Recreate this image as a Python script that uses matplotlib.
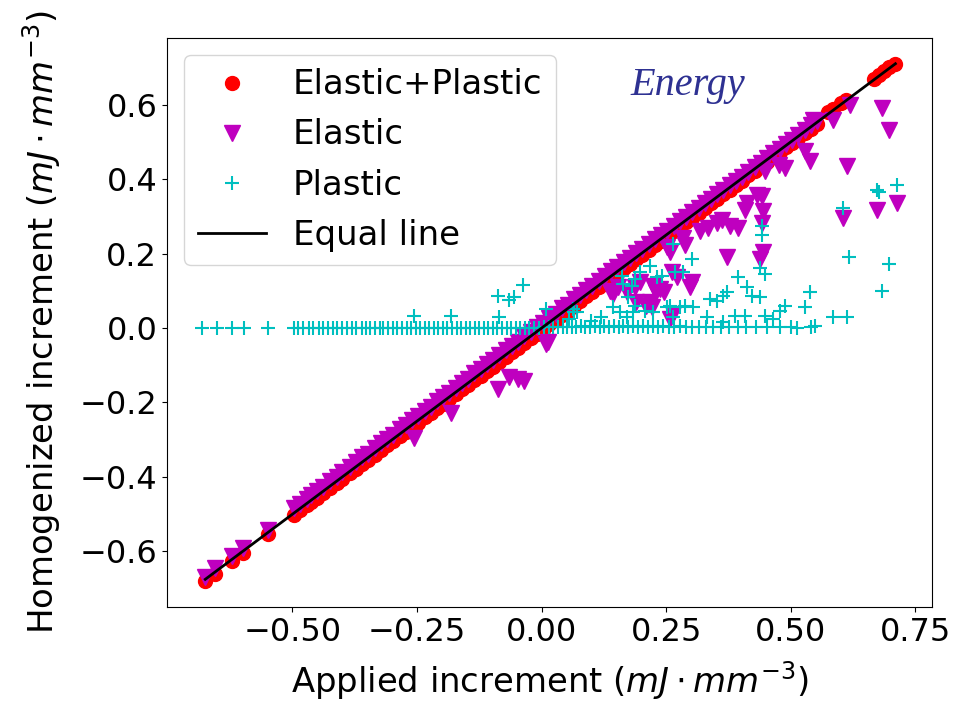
import matplotlib
matplotlib.use("Agg")
import matplotlib.pyplot as plt

# total (elastic + plastic) increment, sits on the equal line
total_x = [-0.675, -0.655, -0.622, -0.600, -0.550, -0.496, -0.485, -0.470, -0.462, -0.450,
           -0.438, -0.425, -0.410, -0.400, -0.385, -0.372, -0.360, -0.348, -0.335, -0.322,
           -0.310, -0.298, -0.285, -0.272, -0.260, -0.248, -0.235, -0.222, -0.210, -0.198,
           -0.185, -0.172, -0.160, -0.148, -0.135, -0.122, -0.110, -0.098, -0.085, -0.072,
           -0.060, -0.048, -0.035, -0.022, -0.010, 0.002, 0.015, 0.028, 0.040, 0.052,
           0.065, 0.078, 0.090, 0.102, 0.115, 0.128, 0.140, 0.152, 0.165, 0.178,
           0.190, 0.202, 0.215, 0.228, 0.240, 0.252, 0.265, 0.278, 0.290, 0.302,
           0.315, 0.328, 0.340, 0.352, 0.365, 0.378, 0.390, 0.402, 0.415, 0.428,
           0.440, 0.452, 0.465, 0.478, 0.490, 0.502, 0.515, 0.528, 0.540, 0.552,
           0.575, 0.585, 0.600, 0.610, 0.668, 0.678, 0.688, 0.698, 0.710]
total_y = [-0.680, -0.660, -0.627, -0.605, -0.554, -0.502, -0.490, -0.476, -0.467, -0.456,
           -0.443, -0.431, -0.415, -0.406, -0.390, -0.378, -0.365, -0.354, -0.340, -0.328,
           -0.315, -0.304, -0.290, -0.278, -0.265, -0.254, -0.240, -0.228, -0.215, -0.204,
           -0.190, -0.178, -0.165, -0.154, -0.140, -0.128, -0.115, -0.104, -0.090, -0.078,
           -0.065, -0.054, -0.040, -0.028, -0.015, -0.004, 0.010, 0.022, 0.035, 0.046,
           0.060, 0.072, 0.085, 0.096, 0.110, 0.122, 0.135, 0.146, 0.160, 0.172,
           0.185, 0.196, 0.210, 0.222, 0.235, 0.246, 0.260, 0.272, 0.285, 0.296,
           0.310, 0.322, 0.335, 0.346, 0.360, 0.372, 0.385, 0.396, 0.410, 0.422,
           0.435, 0.446, 0.460, 0.472, 0.485, 0.497, 0.510, 0.523, 0.536, 0.548,
           0.580, 0.588, 0.604, 0.612, 0.670, 0.680, 0.690, 0.700, 0.710]

# elastic part
elastic_x = [-0.675, -0.655, -0.622, -0.600, -0.550, -0.496, -0.485, -0.470, -0.462, -0.450,
             -0.438, -0.425, -0.410, -0.400, -0.385, -0.372, -0.360, -0.348, -0.335, -0.322,
             -0.310, -0.298, -0.285, -0.272, -0.260, -0.248, -0.235, -0.222, -0.210, -0.198,
             -0.185, -0.172, -0.160, -0.148, -0.135, -0.122, -0.110, -0.098, -0.085, -0.072,
             -0.060, -0.048, -0.035, -0.022, -0.010, 0.002, 0.015, 0.028, 0.040, 0.052,
             0.065, 0.078, 0.090, 0.102, 0.115, 0.128, 0.140, 0.152, 0.165, 0.178,
             0.190, 0.202, 0.215, 0.228, 0.240, 0.252, 0.265, 0.278, 0.290, 0.302,
             0.315, 0.328, 0.340, 0.352, 0.365, 0.378, 0.390, 0.402, 0.415, 0.428,
             0.440, 0.452, 0.465, 0.478, 0.490, 0.502, 0.515, 0.528, 0.540, 0.552,
             0.684, 0.698, 0.618, 0.584, 0.612, 0.674, 0.714, 0.604, 0.538, 0.528,
             0.488, 0.476, 0.448, 0.432, 0.442, 0.444, 0.442, 0.444, 0.438, 0.412,
             0.408, 0.394, 0.378, 0.362, 0.352, 0.334, 0.318, 0.372, 0.302, 0.298,
             0.284, 0.288, 0.252, 0.258, 0.224, 0.218, 0.222, 0.262, 0.272, 0.188,
             0.198, 0.238, 0.246, 0.144, 0.154, 0.264, 0.258, 0.138, 0.172, 0.190,
             0.210, 0.230, 0.012, 0.008, -0.088, -0.066, -0.048, -0.036, -0.182, -0.256,
             0.544]
elastic_y = [-0.668, -0.645, -0.612, -0.592, -0.542, -0.484, -0.472, -0.460, -0.449, -0.437,
             -0.428, -0.411, -0.399, -0.386, -0.374, -0.360, -0.346, -0.337, -0.322, -0.310,
             -0.297, -0.287, -0.272, -0.260, -0.247, -0.236, -0.222, -0.212, -0.197, -0.185,
             -0.174, -0.160, -0.147, -0.137, -0.122, -0.110, -0.097, -0.087, -0.072, -0.060,
             -0.047, -0.037, -0.022, -0.011, 0.003, 0.013, 0.027, 0.039, 0.053, 0.063,
             0.077, 0.088, 0.103, 0.113, 0.127, 0.139, 0.152, 0.163, 0.177, 0.188,
             0.202, 0.213, 0.226, 0.238, 0.251, 0.262, 0.275, 0.288, 0.299, 0.311,
             0.323, 0.336, 0.347, 0.359, 0.371, 0.384, 0.395, 0.407, 0.420, 0.433,
             0.444, 0.457, 0.469, 0.482, 0.494, 0.506, 0.519, 0.532, 0.545, 0.556,
             0.592, 0.532, 0.600, 0.560, 0.435, 0.316, 0.335, 0.295, 0.449, 0.476,
             0.430, 0.438, 0.422, 0.357, 0.354, 0.314, 0.281, 0.205, 0.186, 0.335,
             0.316, 0.268, 0.273, 0.289, 0.281, 0.268, 0.262, 0.192, 0.124, 0.111,
             0.241, 0.222, 0.219, 0.205, 0.114, 0.070, 0.057, 0.151, 0.138, 0.111,
             0.124, 0.105, 0.097, 0.092, 0.111, 0.038, 0.024, 0.100, 0.097, 0.070,
             0.060, 0.097, -0.038, -0.043, -0.165, -0.132, -0.138, -0.143, -0.227, -0.295,
             0.560]

# plastic part
plastic_x = [-0.682, -0.652, -0.622, -0.598, -0.550, -0.496, -0.488, -0.478, -0.466, -0.458,
             -0.446, -0.438, -0.428, -0.418, -0.410, -0.400, -0.390, -0.380, -0.372, -0.360,
             -0.352, -0.344, -0.335, -0.325, -0.318, -0.308, -0.298, -0.290, -0.280, -0.270,
             -0.262, -0.252, -0.244, -0.235, -0.226, -0.216, -0.208, -0.198, -0.190, -0.180,
             -0.170, -0.162, -0.152, -0.144, -0.134, -0.125, -0.116, -0.108, -0.098, -0.090,
             -0.080, -0.070, -0.062, -0.052, -0.044, -0.034, -0.025, -0.016, -0.006, 0.004,
             0.014, 0.022, 0.032, 0.042, 0.050, 0.060, 0.070, 0.080, 0.088, 0.098,
             0.108, 0.118, 0.126, 0.136, 0.146, 0.156, 0.164, 0.174, 0.184, 0.194,
             0.204, 0.214, 0.224, 0.234, 0.244, 0.256, 0.266, 0.278, 0.290, 0.302,
             0.316, 0.330, 0.344, 0.360, 0.376, 0.394, 0.410, 0.430, 0.452, 0.478,
             0.500, 0.512, 0.540,
             -0.256, -0.182, -0.086, -0.088, -0.066, -0.056, -0.038, 0.008, 0.062, 0.072,
             0.064, 0.054, 0.158, 0.172, 0.184, 0.252, 0.264, 0.714, 0.674, 0.678,
             0.604, 0.616, 0.698, 0.684, 0.584, 0.612, 0.538, 0.528, 0.488, 0.478,
             0.548, 0.442, 0.442, 0.438, 0.448, 0.394, 0.412, 0.422, 0.438, 0.364,
             0.372, 0.338, 0.352, 0.302, 0.264, 0.284, 0.268, 0.242, 0.232, 0.218,
             0.198, 0.188, 0.182, 0.162, 0.164, 0.174, 0.188, 0.144, 0.258, 0.278,
             0.288, 0.304, 0.208, 0.224, 0.388, 0.408, 0.332, 0.448, 0.464, 0.364,
             0.120, 0.100]
plastic_y = [0.000, 0.000, 0.000, 0.000, 0.000, 0.000, 0.000, 0.000, 0.000, 0.000,
             0.000, 0.000, 0.000, 0.000, 0.000, 0.000, 0.000, 0.000, 0.000, 0.000,
             0.000, 0.000, 0.000, 0.000, 0.000, 0.000, 0.000, 0.000, 0.000, 0.000,
             0.000, 0.000, 0.000, 0.000, 0.000, 0.000, 0.000, 0.000, 0.000, 0.000,
             0.000, 0.000, 0.000, 0.000, 0.000, 0.000, 0.000, 0.000, 0.000, 0.000,
             0.000, 0.000, 0.000, 0.000, 0.000, 0.000, 0.000, 0.000, 0.000, 0.002,
             0.003, 0.002, 0.004, 0.003, 0.002, 0.004, 0.003, 0.005, 0.004, 0.003,
             0.005, 0.004, 0.006, 0.003, 0.005, 0.004, 0.006, 0.003, 0.005, 0.004,
             0.006, 0.003, 0.005, 0.004, 0.006, 0.003, 0.004, 0.005, 0.003, 0.004,
             0.003, 0.004, 0.002, 0.003, 0.004, 0.002, 0.003, 0.002, 0.003, 0.002,
             0.002, 0.001, 0.002,
             0.032, 0.032, 0.030, 0.086, 0.076, 0.084, 0.116, 0.051, 0.051, 0.043,
             0.043, 0.024, 0.043, 0.030, 0.043, 0.057, 0.030, 0.384, 0.370, 0.365,
             0.322, 0.192, 0.173, 0.100, 0.030, 0.030, 0.097, 0.057, 0.060, 0.046,
             0.005, 0.273, 0.249, 0.160, 0.146, 0.138, 0.111, 0.086, 0.084, 0.086,
             0.097, 0.078, 0.073, 0.186, 0.227, 0.151, 0.151, 0.140, 0.138, 0.168,
             0.151, 0.132, 0.114, 0.140, 0.119, 0.084, 0.060, 0.057, 0.060, 0.057,
             0.060, 0.057, 0.046, 0.043, 0.032, 0.032, 0.030, 0.032, 0.024, 0.016,
             0.030, 0.020]

equal_x = [-0.675, 0.71]
equal_y = [-0.675, 0.71]

plt.rcParams['font.size'] = 23
fig = plt.figure(figsize=(9.68, 7.01), dpi=100)
ax = fig.add_axes([0.1725, 0.134, 0.7905, 0.812])

ax.plot(total_x, total_y, 'o', color='r', markersize=10, label='Elastic+Plastic')
ax.plot(elastic_x, elastic_y, 'v', color='m', markersize=11, label='Elastic')
ax.plot(plastic_x, plastic_y, '+', color='c', markersize=10.5, markeredgewidth=1.5, label='Plastic')
ax.plot(equal_x, equal_y, '-', color='k', linewidth=2, label='Equal line')

ax.set_xticks([-0.5, -0.25, 0.0, 0.25, 0.5, 0.75])
ax.set_yticks([-0.6, -0.4, -0.2, 0.0, 0.2, 0.4, 0.6])
ax.tick_params(labelsize=23)
ax.set_xlabel(r'Applied increment ($mJ \cdot mm^{-3}$)', fontsize=24.4, labelpad=8)
ax.set_ylabel(r'Homogenized increment ($mJ \cdot mm^{-3}$)', fontsize=24.4, labelpad=12)
ax.legend(loc='upper left', fontsize=24.5)

ax.text(0.681, 0.90, 'Energy', transform=ax.transAxes, ha='center', va='baseline',
        family='Liberation Serif', style='italic', fontsize=29, color='#2e3192')

fig.savefig('out.png', dpi=100)
